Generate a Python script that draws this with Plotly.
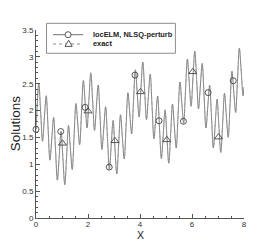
import plotly.graph_objects as go

# ---- data ----
x_grid = [0.0,
    0.0357, 0.1071, 0.1786, 0.25, 0.3214, 0.3929, 0.4643, 0.5357, 0.6071, 0.6786, 0.75, 0.8214, 0.8929, 0.9643,
    1.0357, 1.1071, 1.1786, 1.25, 1.3214, 1.3929, 1.4643, 1.5357, 1.6071, 1.6786, 1.75, 1.8214, 1.8929, 1.9643,
    2.0357, 2.1071, 2.1786, 2.25, 2.3214, 2.3929, 2.4643, 2.5357, 2.6071, 2.6786, 2.75, 2.8214, 2.8929, 2.9643,
    3.0357, 3.1071, 3.1786, 3.25, 3.3214, 3.3929, 3.4643, 3.5357, 3.6071, 3.6786, 3.75, 3.8214, 3.8929, 3.9643,
    4.0357, 4.1071, 4.1786, 4.25, 4.3214, 4.3929, 4.4643, 4.5357, 4.6071, 4.6786, 4.75, 4.8214, 4.8929, 4.9643,
    5.0357, 5.1071, 5.1786, 5.25, 5.3214, 5.3929, 5.4643, 5.5357, 5.6071, 5.6786, 5.75, 5.8214, 5.8929, 5.9643,
    6.0357, 6.1071, 6.1786, 6.25, 6.3214, 6.3929, 6.4643, 6.5357, 6.6071, 6.6786, 6.75, 6.8214, 6.8929, 6.9643,
    7.0357, 7.1071, 7.1786, 7.25, 7.3214, 7.3929, 7.4643, 7.5357, 7.6071, 7.6786, 7.75, 7.8214, 7.8929, 7.9643,
    8.0]

u_exact = [1.644,
    2.003, 2.503, 1.978, 1.430, 1.861, 2.276, 1.679, 1.076, 1.471, 1.871, 1.281, 0.706, 1.149, 1.614,
    1.104, 0.619, 1.158, 1.721, 1.303, 0.902, 1.513, 2.131, 1.750, 1.364, 1.969, 2.559, 2.130, 1.678,
    2.203, 2.703, 2.178, 1.630, 2.061, 2.476, 1.879, 1.276, 1.671, 2.071, 1.481, 0.906, 1.349, 1.814,
    1.304, 0.819, 1.358, 1.921, 1.503, 1.102, 1.713, 2.331, 1.950, 1.564, 2.169, 2.759, 2.330, 1.878,
    2.403, 2.903, 2.378, 1.830, 2.261, 2.676, 2.079, 1.476, 1.871, 2.271, 1.681, 1.106, 1.549, 2.014,
    1.504, 1.019, 1.558, 2.121, 1.703, 1.302, 1.913, 2.531, 2.150, 1.764, 2.369, 2.959, 2.530, 2.078,
    2.603, 3.103, 2.578, 2.030, 2.461, 2.876, 2.279, 1.676, 2.071, 2.471, 1.881, 1.306, 1.749, 2.214,
    1.704, 1.219, 1.758, 2.321, 1.903, 1.502, 2.113, 2.731, 2.350, 1.964, 2.569, 3.159, 2.730, 2.278,
    2.440]

# locELM (NLSQ-perturb) solution is visually identical to the exact one
u_locelm = list(u_exact)

circle_x = [0.0, 0.953, 1.891, 2.816, 3.806, 4.732, 5.67, 6.62, 7.586]
circle_y = [1.65, 1.61, 2.06, 0.947, 2.66, 1.81, 1.80, 2.335, 2.555]

tri_x = [1.017, 2.0, 3.035, 4.02, 5.028, 6.03, 7.02]
tri_y = [1.39, 1.99, 1.437, 2.348, 1.455, 2.722, 1.505]

legend_names = ["locELM, NLSQ-perturb", "exact"]
x_title = "X"
y_title = "Solutions"

FONT = "Liberation Sans, Arial, Helvetica, sans-serif"
LINE_C = "#707070"
MARK_C = "#444444"

fig = go.Figure()
fig.add_trace(go.Scatter(x=x_grid, y=u_locelm, mode="lines",
                         line=dict(color=LINE_C, width=0.9, shape="spline", smoothing=1),
                         name=legend_names[0], showlegend=False))
fig.add_trace(go.Scatter(x=x_grid, y=u_exact, mode="lines",
                         line=dict(color="#9a9a9a", width=0.6, dash="dot", shape="spline", smoothing=1),
                         name=legend_names[1], showlegend=False))
fig.add_trace(go.Scatter(x=circle_x, y=circle_y, mode="markers",
                         marker=dict(symbol="circle-open", size=6, color=MARK_C, line=dict(width=0.9, color=MARK_C)),
                         showlegend=False, cliponaxis=False))
fig.add_trace(go.Scatter(x=tri_x, y=tri_y, mode="markers",
                         marker=dict(symbol="triangle-up-open", size=7, color=MARK_C, line=dict(width=0.9, color=MARK_C)),
                         showlegend=False, cliponaxis=False))

# page is drawn with an 8px body margin; plot area in page pixels:
PL, PB = 36.3, 218.3          # left / bottom of plot area (page px)
PW, PH = 207.4, 188.3         # plot area size
OFF = 8
FIG_W, FIG_H = 277 - OFF, 246 - OFF

def px(xp):
    return (xp - PL) / PW
def py(yp):
    return (PB - yp) / PH

shapes = [
    dict(type="rect", xref="paper", yref="paper", x0=px(46.8), x1=px(175.3), y0=py(53.3), y1=py(23.3),
         line=dict(color="#8c8c8c", width=1), fillcolor="white", layer="above"),
    dict(type="line", xref="paper", yref="paper", x0=px(53.3), x1=px(83.3), y0=py(34.7), y1=py(34.7),
         line=dict(color=LINE_C, width=1), layer="above"),
    dict(type="line", xref="paper", yref="paper", x0=px(53.3), x1=px(83.3), y0=py(44.0), y1=py(44.0),
         line=dict(color="#8a8a8a", width=1, dash="dot"), layer="above"),
    dict(type="circle", xref="paper", yref="paper", xsizemode="pixel", ysizemode="pixel",
         xanchor=px(68.3), yanchor=py(34.7), x0=-3, x1=3, y0=-3, y1=3,
         line=dict(color=MARK_C, width=0.9), fillcolor="white", layer="above"),
    dict(type="path", xref="paper", yref="paper", xsizemode="pixel", ysizemode="pixel",
         xanchor=px(68.8), yanchor=py(44.0), path="M-3.6,-2.4 L3.6,-2.4 L0,3.8 Z",
         line=dict(color=MARK_C, width=0.9), fillcolor="white", layer="above"),
]
annotations = [
    dict(xref="paper", yref="paper", x=px(91.5), y=py(34.7), xanchor="left", yanchor="middle",
         text="<b>" + legend_names[0] + "</b>", showarrow=False,
         font=dict(family=FONT, size=7.4, color="#222")),
    dict(xref="paper", yref="paper", x=px(91.5), y=py(44.0), xanchor="left", yanchor="middle",
         text="<b>" + legend_names[1] + "</b>", showarrow=False,
         font=dict(family=FONT, size=7.4, color="#222")),
    # axis titles
    dict(xref="paper", yref="paper", x=px(140.0), y=py(235.0), xanchor="center", yanchor="middle",
         text=x_title, showarrow=False, font=dict(family=FONT, size=10.5, color="#222")),
    dict(xref="paper", yref="paper", x=px(16.7), y=py(124.0), xanchor="center", yanchor="middle",
         text=y_title, textangle=-90, showarrow=False, font=dict(family=FONT, size=13.4, color="#222")),
]

axis_common = dict(showline=True, linecolor="#555", linewidth=1, mirror=False,
                   ticks="inside", ticklen=4, tickwidth=1, tickcolor="#555",
                   showgrid=False, zeroline=False, automargin=False,
                   tickfont=dict(family=FONT, size=8, color="#333"))

fig.update_layout(
    width=FIG_W, height=FIG_H,
    margin=dict(l=PL - OFF, r=FIG_W - (PL - OFF) - PW, t=(PB - PH) - OFF, b=FIG_H - (PB - OFF), pad=0),
    paper_bgcolor="white", plot_bgcolor="white",
    showlegend=False,
    font=dict(family=FONT),
    xaxis=dict(range=[0, 8], dtick=2, tick0=0, ticklabelstandoff=-2,
               minor=dict(dtick=0.5, ticks="inside", ticklen=2, tickcolor="#555"),
               **axis_common),
    yaxis=dict(range=[0, 3.5], dtick=0.5, tick0=0,
               minor=dict(dtick=0.1, ticks="inside", ticklen=2, tickcolor="#555"),
               **axis_common),
    shapes=shapes,
    annotations=annotations,
)

fig.write_html("out.html")
